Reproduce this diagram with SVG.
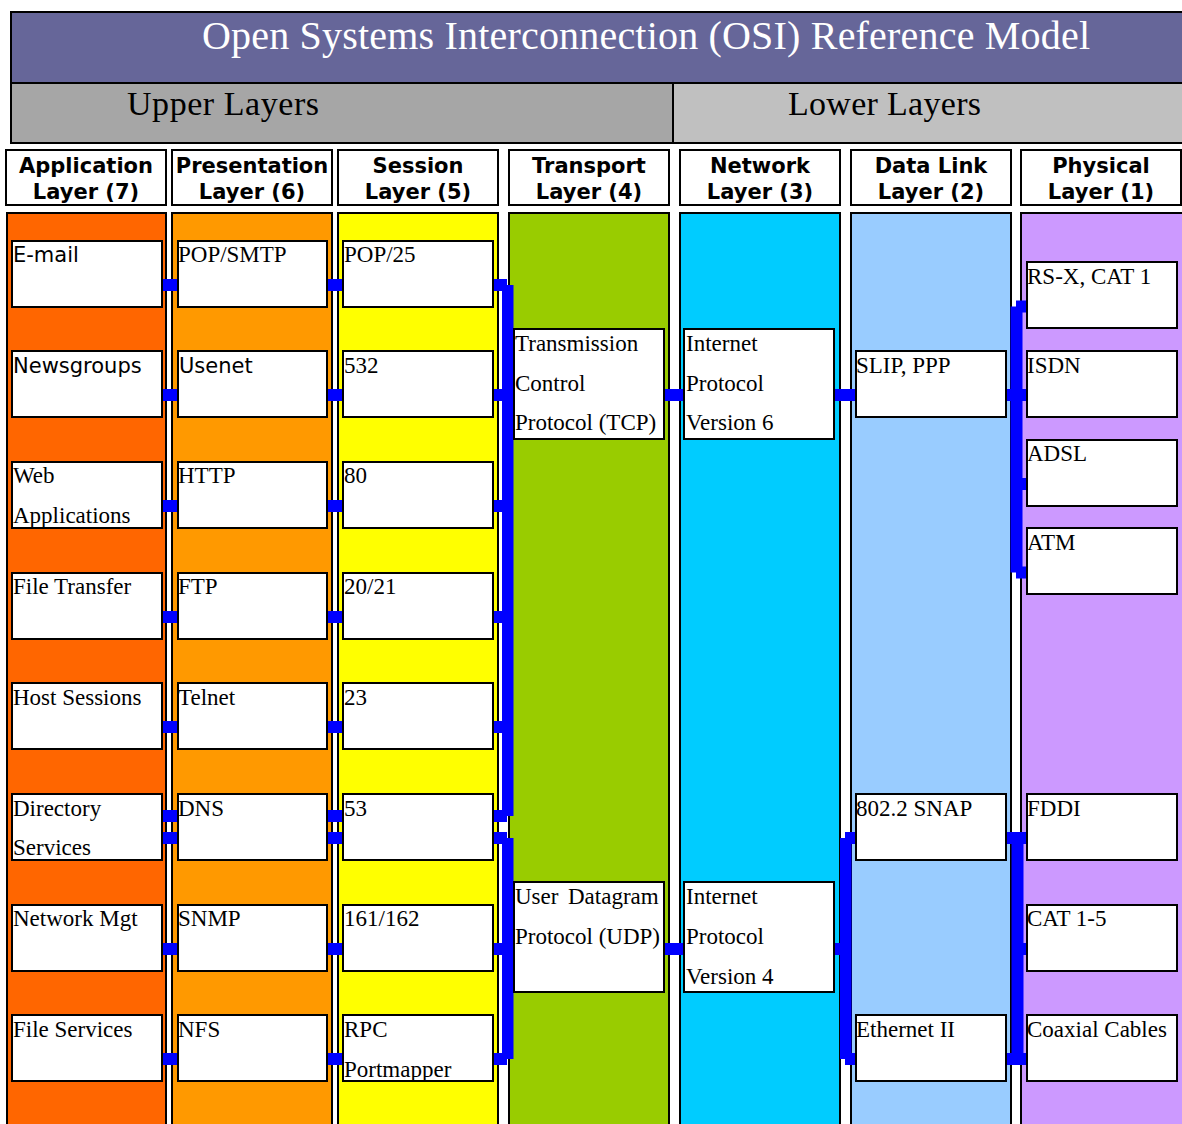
<svg xmlns="http://www.w3.org/2000/svg" width="1182" height="1124" viewBox="0 0 1182 1124">
<style>
.band{stroke:#000;stroke-width:2}
.col{stroke:#000;stroke-width:2}
.hdr{fill:#fff;stroke:#000;stroke-width:2}
.box{fill:#fff;stroke:#000;stroke-width:2}
.ht{font-family:"DejaVu Sans",Verdana,sans-serif;font-weight:bold;font-size:21px;text-anchor:middle;fill:#000}
.st{font-family:"DejaVu Sans",Verdana,sans-serif;font-size:21px;fill:#000}
.t{font-family:"Liberation Serif","Times New Roman",serif;font-size:23px;fill:#000}
.big{font-family:"Liberation Serif","Times New Roman",serif;font-size:34px;fill:#000}
.c{fill:#0000FF}
</style>
<rect width="1182" height="1124" fill="#fff"/>
<g id="title">
<rect class="band" x="11" y="12" width="1180" height="71" fill="#666699"/>
<text x="202" y="49" font-family="Liberation Serif,Times New Roman,serif" font-size="40" fill="#fff" textLength="888">Open Systems Interconnection (OSI) Reference Model</text>
</g>
<g id="upper-layers">
<rect class="band" x="11" y="83" width="662" height="60" fill="#A6A6A6"/>
<text class="big" x="127" y="115" textLength="192">Upper Layers</text>
</g>
<g id="lower-layers">
<rect class="band" x="673" y="83" width="518" height="60" fill="#C0C0C0"/>
<text class="big" x="788" y="115" textLength="193">Lower Layers</text>
</g>
<g id="headers">
<g id="h7"><rect class="hdr" x="6" y="150" width="160" height="55"/><text class="ht" x="86" y="173">Application</text><text class="ht" x="86" y="199">Layer (7)</text></g>
<g id="h6"><rect class="hdr" x="172" y="150" width="160" height="55"/><text class="ht" x="252" y="173">Presentation</text><text class="ht" x="252" y="199">Layer (6)</text></g>
<g id="h5"><rect class="hdr" x="338" y="150" width="160" height="55"/><text class="ht" x="418" y="173">Session</text><text class="ht" x="418" y="199">Layer (5)</text></g>
<g id="h4"><rect class="hdr" x="509" y="150" width="160" height="55"/><text class="ht" x="589" y="173">Transport</text><text class="ht" x="589" y="199">Layer (4)</text></g>
<g id="h3"><rect class="hdr" x="680" y="150" width="160" height="55"/><text class="ht" x="760" y="173">Network</text><text class="ht" x="760" y="199">Layer (3)</text></g>
<g id="h2"><rect class="hdr" x="851" y="150" width="160" height="55"/><text class="ht" x="931" y="173">Data Link</text><text class="ht" x="931" y="199">Layer (2)</text></g>
<g id="h1"><rect class="hdr" x="1021" y="150" width="160" height="55"/><text class="ht" x="1101" y="173">Physical</text><text class="ht" x="1101" y="199">Layer (1)</text></g>
</g>
<g id="columns">
<rect class="col" x="7" y="213" width="159" height="930" fill="#FF6600"/>
<rect class="col" x="172" y="213" width="160" height="930" fill="#FF9900"/>
<rect class="col" x="338" y="213" width="160" height="930" fill="#FFFF00"/>
<rect class="col" x="509" y="213" width="160" height="930" fill="#99CC00"/>
<rect class="col" x="680" y="213" width="160" height="930" fill="#00CCFF"/>
<rect class="col" x="851" y="213" width="160" height="930" fill="#99CCFF"/>
<rect class="col" x="1021" y="213" width="170" height="930" fill="#CC99FF"/>
</g>
<g id="connectors">
<rect class="c" x="161" y="279" width="18" height="12"/>
<rect class="c" x="161" y="389" width="18" height="12"/>
<rect class="c" x="161" y="500" width="18" height="12"/>
<rect class="c" x="161" y="611" width="18" height="12"/>
<rect class="c" x="161" y="721" width="18" height="12"/>
<rect class="c" x="161" y="810" width="18" height="12"/>
<rect class="c" x="161" y="832" width="18" height="12"/>
<rect class="c" x="161" y="943" width="18" height="12"/>
<rect class="c" x="161" y="1053" width="18" height="12"/>
<rect class="c" x="326" y="279" width="18" height="12"/>
<rect class="c" x="326" y="389" width="18" height="12"/>
<rect class="c" x="326" y="500" width="18" height="12"/>
<rect class="c" x="326" y="611" width="18" height="12"/>
<rect class="c" x="326" y="721" width="18" height="12"/>
<rect class="c" x="326" y="810" width="18" height="12"/>
<rect class="c" x="326" y="832" width="18" height="12"/>
<rect class="c" x="326" y="943" width="18" height="12"/>
<rect class="c" x="326" y="1053" width="18" height="12"/>
<rect class="c" x="492" y="279" width="15" height="12"/>
<rect class="c" x="492" y="389" width="23" height="12"/>
<rect class="c" x="492" y="500" width="15" height="12"/>
<rect class="c" x="492" y="611" width="15" height="12"/>
<rect class="c" x="492" y="721" width="15" height="12"/>
<rect class="c" x="492" y="810" width="15" height="12"/>
<rect class="c" x="502" y="285" width="11.5" height="531"/>
<rect class="c" x="492" y="832" width="15" height="12"/>
<rect class="c" x="492" y="943" width="23" height="12"/>
<rect class="c" x="492" y="1053" width="15" height="12"/>
<rect class="c" x="502" y="838" width="11.5" height="221"/>
<rect class="c" x="663" y="389" width="22" height="12"/>
<rect class="c" x="833" y="389" width="24" height="12"/>
<rect class="c" x="1005" y="389" width="22" height="12"/>
<rect class="c" x="1010.5" y="306.5" width="12" height="266"/>
<rect class="c" x="1016" y="300.5" width="11" height="12"/>
<rect class="c" x="1016" y="478" width="11" height="12"/>
<rect class="c" x="1016" y="566.5" width="11" height="12"/>
<rect class="c" x="663" y="943" width="22" height="12"/>
<rect class="c" x="833" y="943" width="12" height="12"/>
<rect class="c" x="840" y="838" width="11.5" height="221"/>
<rect class="c" x="845" y="832" width="11" height="12"/>
<rect class="c" x="845" y="1053" width="11" height="12"/>
<rect class="c" x="1011.5" y="837" width="12" height="228"/>
<rect class="c" x="1005" y="832" width="22" height="12"/>
<rect class="c" x="1016" y="943" width="11" height="12"/>
<rect class="c" x="1005" y="1053" width="22" height="12"/>
</g>
<g id="app">
<g id="email"><rect class="box" x="12" y="241" width="150" height="66"/><text class="st" x="13" y="262">E-mail</text></g>
<g id="newsgroups"><rect class="box" x="12" y="351" width="150" height="66"/><text class="st" x="13" y="373">Newsgroups</text></g>
<g id="web"><rect class="box" x="12" y="462" width="150" height="66"/><text class="t" x="13" y="483">Web</text><text class="t" x="13" y="523">Applications</text></g>
<g id="filetransfer"><rect class="box" x="12" y="573" width="150" height="66"/><text class="t" x="13" y="594">File Transfer</text></g>
<g id="hostsessions"><rect class="box" x="12" y="683" width="150" height="66"/><text class="t" x="13" y="705">Host Sessions</text></g>
<g id="directory"><rect class="box" x="12" y="794" width="150" height="66"/><text class="t" x="13" y="816">Directory</text><text class="t" x="13" y="855">Services</text></g>
<g id="networkmgt"><rect class="box" x="12" y="905" width="150" height="66"/><text class="t" x="13" y="926">Network Mgt</text></g>
<g id="fileservices"><rect class="box" x="12" y="1015" width="150" height="66"/><text class="t" x="13" y="1037">File Services</text></g>
</g>
<g id="pres">
<g id="popsmtp"><rect class="box" x="178" y="241" width="149" height="66"/><text class="t" x="178" y="262">POP/SMTP</text></g>
<g id="usenet"><rect class="box" x="178" y="351" width="149" height="66"/><text class="st" x="179" y="373">Usenet</text></g>
<g id="http"><rect class="box" x="178" y="462" width="149" height="66"/><text class="t" x="178" y="483">HTTP</text></g>
<g id="ftp"><rect class="box" x="178" y="573" width="149" height="66"/><text class="t" x="178" y="594">FTP</text></g>
<g id="telnet"><rect class="box" x="178" y="683" width="149" height="66"/><text class="t" x="178" y="705">Telnet</text></g>
<g id="dns"><rect class="box" x="178" y="794" width="149" height="66"/><text class="t" x="178" y="816">DNS</text></g>
<g id="snmp"><rect class="box" x="178" y="905" width="149" height="66"/><text class="t" x="178" y="926">SNMP</text></g>
<g id="nfs"><rect class="box" x="178" y="1015" width="149" height="66"/><text class="t" x="178" y="1037">NFS</text></g>
</g>
<g id="session">
<g id="p25"><rect class="box" x="343" y="241" width="150" height="66"/><text class="t" x="344" y="262">POP/25</text></g>
<g id="p532"><rect class="box" x="343" y="351" width="150" height="66"/><text class="t" x="344" y="373">532</text></g>
<g id="p80"><rect class="box" x="343" y="462" width="150" height="66"/><text class="t" x="344" y="483">80</text></g>
<g id="p2021"><rect class="box" x="343" y="573" width="150" height="66"/><text class="t" x="344" y="594">20/21</text></g>
<g id="p23"><rect class="box" x="343" y="683" width="150" height="66"/><text class="t" x="344" y="705">23</text></g>
<g id="p53"><rect class="box" x="343" y="794" width="150" height="66"/><text class="t" x="344" y="816">53</text></g>
<g id="p161"><rect class="box" x="343" y="905" width="150" height="66"/><text class="t" x="344" y="926">161/162</text></g>
<g id="rpc"><rect class="box" x="343" y="1015" width="150" height="66"/><text class="t" x="344" y="1037">RPC</text><text class="t" x="344" y="1077">Portmapper</text></g>
</g>
<g id="transport">
<g id="tcp"><rect class="box" x="514" y="329" width="150" height="110"/><text class="t" x="515" y="351">Transmission</text><text class="t" x="515" y="391">Control</text><text class="t" x="515" y="430">Protocol (TCP)</text></g>
<g id="udp"><rect class="box" x="514" y="882" width="150" height="110"/><text class="t" x="515" y="904">User<tspan x="568">Datagram</tspan></text><text class="t" x="515" y="944">Protocol (UDP)</text></g>
</g>
<g id="network">
<g id="ipv6"><rect class="box" x="684" y="329" width="150" height="110"/><text class="t" x="686" y="351">Internet</text><text class="t" x="686" y="391">Protocol</text><text class="t" x="686" y="430">Version 6</text></g>
<g id="ipv4"><rect class="box" x="684" y="882" width="150" height="110"/><text class="t" x="686" y="904">Internet</text><text class="t" x="686" y="944">Protocol</text><text class="t" x="686" y="984">Version 4</text></g>
</g>
<g id="datalink">
<g id="slip"><rect class="box" x="856" y="351" width="150" height="66"/><text class="t" x="856" y="373">SLIP, PPP</text></g>
<g id="snap"><rect class="box" x="856" y="794" width="150" height="66"/><text class="t" x="856" y="816">802.2 SNAP</text></g>
<g id="ethernet"><rect class="box" x="856" y="1015" width="150" height="66"/><text class="t" x="856" y="1037">Ethernet II</text></g>
</g>
<g id="physical">
<g id="rsx"><rect class="box" x="1027" y="262" width="150" height="66"/><text class="t" x="1027" y="284">RS-X, CAT 1</text></g>
<g id="isdn"><rect class="box" x="1027" y="351" width="150" height="66"/><text class="t" x="1027" y="373">ISDN</text></g>
<g id="adsl"><rect class="box" x="1027" y="440" width="150" height="66"/><text class="t" x="1027" y="461">ADSL</text></g>
<g id="atm"><rect class="box" x="1027" y="528" width="150" height="66"/><text class="t" x="1027" y="550">ATM</text></g>
<g id="fddi"><rect class="box" x="1027" y="794" width="150" height="66"/><text class="t" x="1027" y="816">FDDI</text></g>
<g id="cat15"><rect class="box" x="1027" y="905" width="150" height="66"/><text class="t" x="1027" y="926">CAT 1-5</text></g>
<g id="coax"><rect class="box" x="1027" y="1015" width="150" height="66"/><text class="t" x="1027" y="1037">Coaxial Cables</text></g>
</g>
</svg>
